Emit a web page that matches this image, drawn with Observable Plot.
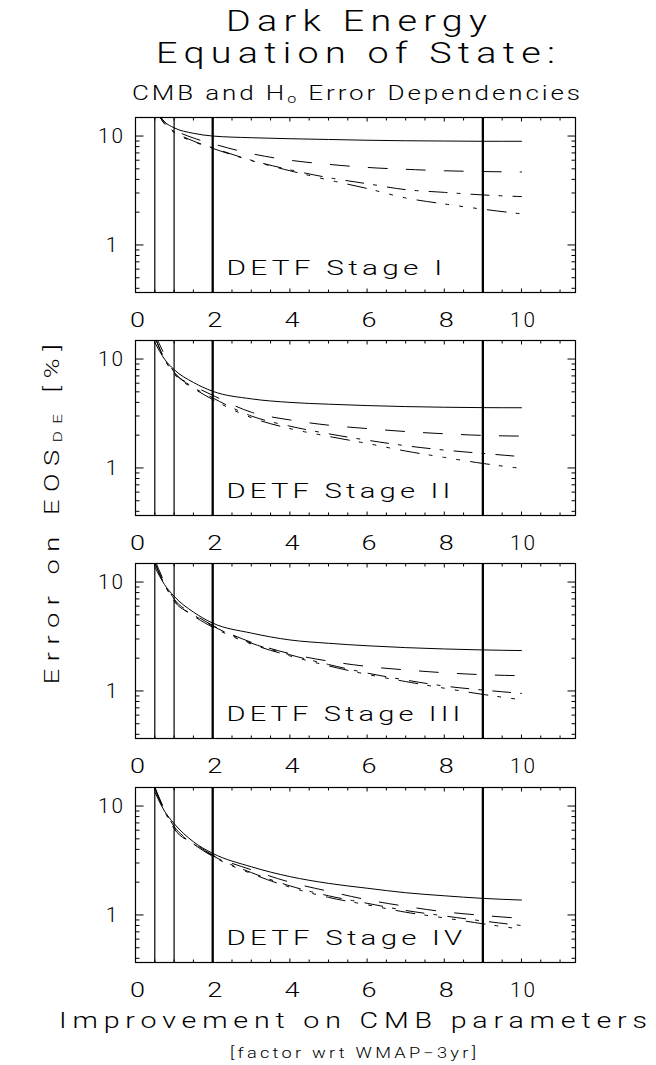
<!DOCTYPE html>
<html>
<head>
<meta charset="utf-8">
<script src="https://cdn.jsdelivr.net/npm/d3@7"></script>
<script src="https://cdn.jsdelivr.net/npm/@observablehq/plot@0.6"></script>
<style>
  html, body { margin: 0; padding: 0; background: #fff; }
  #root { position: relative; width: 656px; height: 1065px; overflow: hidden; background: #fff;
          font-family: Roboto, "Open Sans", "DejaVu Sans", sans-serif; font-weight: 300; color: #000; }
  .t { position: absolute; white-space: nowrap; line-height: 1; }
  .t sub { font-size: 0.62em; vertical-align: -0.22em; line-height: 0; }
  .panel { position: absolute; left: 0; }
</style>
</head>
<body>
<div id="root"></div>
<script>
// ---------------- data ----------------
const xValues = [0.5, 0.75, 1, 1.5, 2, 3, 4, 5, 6, 7, 8, 9, 10];
const stageLabels = ["DETF Stage I", "DETF Stage II", "DETF Stage III", "DETF Stage IV"];
const solidLine = [
  [17.5, 13.5, 11.9, 10.6, 10.0, 9.65, 9.45, 9.3, 9.15, 9.05, 9.0, 8.95, 8.95],
  [14.2, 10.0, 8.0, 6.1, 5.06, 4.31, 4.0, 3.85, 3.74, 3.66, 3.61, 3.58, 3.57],
  [13.8, 9.5, 7.4, 5.3, 4.2, 3.4, 2.94, 2.74, 2.6, 2.5, 2.43, 2.38, 2.35],
  [13.5, 9.0, 6.9, 4.7, 3.68, 2.77, 2.25, 1.95, 1.76, 1.6, 1.5, 1.42, 1.37]
];
const longDashLine = [
  [18, 13.5, 11.5, 9.6, 8.5, 6.9, 6.0, 5.5, 5.15, 4.95, 4.8, 4.72, 4.68],
  [17, 11, 7.6, 5.7, 4.65, 3.25, 2.76, 2.47, 2.3, 2.16, 2.06, 1.99, 1.96],
  [16, 10, 7.0, 5.1, 4.0, 2.8, 2.2, 1.88, 1.68, 1.56, 1.47, 1.41, 1.38],
  [15, 9.3, 6.5, 4.6, 3.55, 2.6, 2.0, 1.65, 1.38, 1.2, 1.07, 0.99, 0.93]
];
const dashDotLine = [
  [18, 13, 11, 9.0, 7.8, 6.0, 4.9, 4.15, 3.65, 3.22, 3.04, 2.88, 2.78],
  [16, 10, 7.5, 5.5, 4.4, 3.0, 2.42, 2.06, 1.8, 1.6, 1.46, 1.36, 1.27],
  [15, 9.5, 6.7, 5.0, 3.95, 2.75, 2.15, 1.75, 1.46, 1.26, 1.11, 1.02, 0.95],
  [14.5, 9.0, 6.2, 4.5, 3.5, 2.45, 1.85, 1.5, 1.28, 1.1, 0.98, 0.88, 0.8]
];
const dashDotDotLine = [
  [18, 13, 10.8, 8.9, 7.7, 5.95, 4.8, 3.95, 3.3, 2.7, 2.38, 2.13, 1.93],
  [16, 10, 7.3, 5.4, 4.25, 2.9, 2.3, 1.95, 1.68, 1.43, 1.25, 1.1, 0.99],
  [15, 9.5, 6.8, 4.9, 3.85, 2.7, 2.1, 1.7, 1.42, 1.22, 1.06, 0.93, 0.83],
  [14.5, 9.2, 6.4, 4.5, 3.45, 2.4, 1.8, 1.45, 1.24, 1.06, 0.94, 0.83, 0.74]
];
const markerX = [0.5, 1, 2, 9];
const xTickLabels = [0, 2, 4, 6, 8, 10];
const xMinorTicks = [0.5, 1, 1.5, 2.5, 3, 3.5, 4.5, 5, 5.5, 6.5, 7, 7.5, 8.5, 9, 9.5, 10.5, 11];
const yTickLabels = [1, 10];
const yMinorTicks = [0.4, 0.5, 0.6, 0.7, 0.8, 0.9, 2, 3, 4, 5, 6, 7, 8, 9];

// ---------------- layout ----------------
const root = document.getElementById("root");
const FONT = 'Roboto, "Open Sans", "DejaVu Sans", sans-serif';
const frameTops = [116.5, 340, 562.7, 786.7];
const MT = 8, MB = 40, H = 223;
const labelLengths = [220, 228, 238, 240];

function makePanel(i) {
  const mk = vals => xValues.map((x, j) => ({x, y: vals[j]}));
  const lineOpts = {x: "x", y: "y", stroke: "#000", strokeWidth: 1, curve: "monotone-x", clip: true};
  const noText = () => "";
  const svg = Plot.plot({
    width: 656, height: H,
    marginLeft: 135, marginRight: 81, marginTop: MT, marginBottom: MB,
    x: {domain: [0, 11.4]},
    y: {type: "log", domain: [0.366, 14.8]},
    style: {fontFamily: FONT, fontWeight: 300, fontSize: "21px", background: "transparent", color: "#000", overflow: "visible"},
    marks: [
      Plot.ruleX(markerX, {x: d => d, stroke: "#000", strokeWidth: d => (d >= 2 ? 2.3 : 1.2)}),
      Plot.line(mk(solidLine[i]), lineOpts),
      Plot.line(mk(longDashLine[i]), {...lineOpts, strokeDasharray: "19,19"}),
      Plot.line(mk(dashDotLine[i]), {...lineOpts, strokeDasharray: "18,10,3,11"}),
      Plot.line(mk(dashDotDotLine[i]), {...lineOpts, strokeDasharray: "19,10,3,11,3,11,3,11"}),
      Plot.frame({stroke: "#000", strokeWidth: 1.2}),
      // inward ticks, all four sides
      Plot.axisX({anchor: "bottom", ticks: xTickLabels, tickSize: 3.5, dy: -3.5, tickFormat: noText, label: null}),
      Plot.axisX({anchor: "bottom", ticks: xMinorTicks, tickSize: 2.5, dy: -2.5, tickFormat: noText, label: null}),
      Plot.axisX({anchor: "top", ticks: xTickLabels, tickSize: 3.5, dy: 3.5, tickFormat: noText, label: null}),
      Plot.axisX({anchor: "top", ticks: xMinorTicks, tickSize: 2.5, dy: 2.5, tickFormat: noText, label: null}),
      Plot.axisY({anchor: "left", ticks: yTickLabels, tickSize: 8.5, dx: 8.5, tickFormat: noText, label: null}),
      Plot.axisY({anchor: "left", ticks: yMinorTicks, tickSize: 4.5, dx: 4.5, tickFormat: noText, label: null}),
      Plot.axisY({anchor: "right", ticks: yTickLabels, tickSize: 8.5, dx: -8.5, tickFormat: noText, label: null}),
      Plot.axisY({anchor: "right", ticks: yMinorTicks, tickSize: 4.5, dx: -4.5, tickFormat: noText, label: null}),
      // tick labels
      Plot.text(xTickLabels, {x: d => d, frameAnchor: "bottom", text: d => String(d), lineAnchor: "top", dy: 20, dx: 2, fontSize: 21}),
      Plot.text(yTickLabels, {y: d => d, frameAnchor: "left", text: d => String(d), textAnchor: "middle", dx: -24, fontSize: 21}),
      // panel label
      Plot.text([stageLabels[i]], {frameAnchor: "bottom-left", text: d => d, textAnchor: "start", lineAnchor: "bottom", dx: 91, dy: -18, fontSize: 21})
    ]
  });
  svg.querySelectorAll("text").forEach(t => {
    const s = t.textContent;
    if (s === stageLabels[i]) {
      t.style.letterSpacing = "3px";
      t.setAttribute("textLength", labelLengths[i]);
      t.setAttribute("lengthAdjust", "spacingAndGlyphs");
    } else if (s === "10") {
      t.style.letterSpacing = "2px";
      t.setAttribute("textLength", 27);
      t.setAttribute("lengthAdjust", "spacingAndGlyphs");
    } else if (/^[0-9]$/.test(s) && s !== "1") {
      t.setAttribute("textLength", 15);
      t.setAttribute("lengthAdjust", "spacingAndGlyphs");
    }
  });
  const wrap = document.createElement("div");
  wrap.className = "panel";
  wrap.style.top = (frameTops[i] - MT) + "px";
  wrap.appendChild(svg);
  root.appendChild(wrap);
}
for (let i = 0; i < 4; i++) makePanel(i);

// text placed with a horizontal stretch k plus letter-spacing to reach a target width
function place(html, o) {
  const k = o.k || 1.3;
  const el = document.createElement("div");
  el.className = "t";
  el.innerHTML = html;
  el.style.fontSize = o.size + "px";
  root.appendChild(el);
  const w = el.getBoundingClientRect().width;
  const n = el.textContent.length;
  const ls = Math.max(0, (o.width / k - w) / (n - 1));
  el.style.letterSpacing = ls + "px";
  const r = el.getBoundingClientRect();
  if (o.rotate) {
    el.style.left = (o.cx - r.width / 2 + ls / 2) + "px";
    el.style.top = (o.cy - r.height / 2) + "px";
    el.style.transformOrigin = "50% 50%";
    el.style.transform = "rotate(-90deg) scaleX(" + k + ")";
  } else {
    el.style.left = (o.cx - o.width / 2) + "px";
    el.style.top = (o.base - 0.842 * o.size) + "px";
    el.style.transformOrigin = "0 0";
    el.style.transform = "scaleX(" + k + ")";
  }
}
place("Dark Energy", {cx: 356, base: 31, size: 29, width: 261});
place("Equation of State:", {cx: 355, base: 63, size: 29, width: 399});
place("CMB and H<sub>o</sub> Error Dependencies", {cx: 356, base: 100, size: 20, width: 448});
place("Improvement on CMB parameters", {cx: 353, base: 1029, size: 22, width: 588});
place("[factor wrt WMAP\u22123yr]", {cx: 353, base: 1058, size: 14, width: 246});
place("Error on EOS<sub>DE</sub> [%]", {rotate: true, cx: 50, cy: 510, size: 21, width: 340});
</script>
</body>
</html>
